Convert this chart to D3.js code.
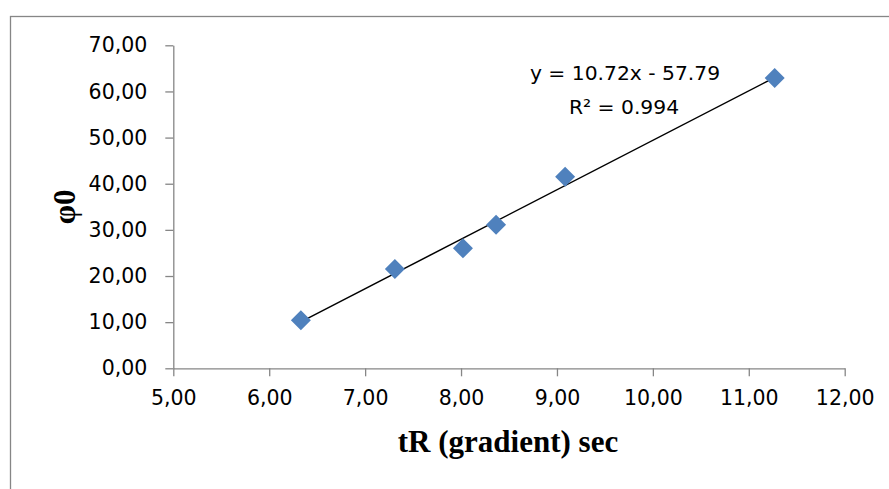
<!DOCTYPE html>
<html><head><meta charset="utf-8">
<script src="https://cdn.jsdelivr.net/npm/d3@7"></script>
<style>body{margin:0;background:#fff;}svg{display:block;}</style>
</head><body>
<script>
const tR = [6.33, 7.31, 8.02, 8.365, 9.085, 11.27];
const phi0 = [10.4, 21.5, 26.0, 31.1, 41.5, 62.9];
const xTicks = [5, 6, 7, 8, 9, 10, 11, 12];
const yTicks = [0, 10, 20, 30, 40, 50, 60, 70];
const slope = 10.72, intercept = -57.79;
const eqText = "y = 10.72x - 57.79";
const r2Text = "R² = 0.994";
const xTitle = "tR (gradient) sec";
const yTitle = "φ0";

const W = 889, H = 489;
const svg = d3.select("body").append("svg").attr("width", W).attr("height", H);
svg.append("rect").attr("x", 10.5).attr("y", 16.5).attr("width", 900).attr("height", 500)
  .attr("fill", "#fff").attr("stroke", "#868686").attr("stroke-width", 1.3);

const x = d3.scaleLinear().domain([5, 12]).range([173.3, 844.7]);
const y = d3.scaleLinear().domain([0, 70]).range([368.3, 45.3]);
const fmt = d => d.toFixed(2).replace(".", ",");
const font = "DejaVu Sans";

const xa = svg.append("g").attr("transform", `translate(0,${y(0)})`)
  .call(d3.axisBottom(x).tickValues(xTicks).tickFormat(fmt).tickSize(8).tickSizeOuter(0).tickPadding(14));
const ya = svg.append("g").attr("transform", `translate(${x(5)},0)`)
  .call(d3.axisLeft(y).tickValues(yTicks).tickFormat(fmt).tickSize(8).tickSizeOuter(0).tickPadding(18));
[xa, ya].forEach(a => {
  a.selectAll("path,line").attr("stroke", "#868686").attr("stroke-width", 1.3);
  a.selectAll("text").attr("font-family", font).attr("font-size", 20.5).attr("fill", "#000");
});

// trend line
const x0 = d3.min(tR), x1 = d3.max(tR);
svg.append("line").attr("x1", x(x0)).attr("y1", y(slope * x0 + intercept))
  .attr("x2", x(x1)).attr("y2", y(slope * x1 + intercept))
  .attr("stroke", "#000").attr("stroke-width", 1.5);

// points
const sym = d3.symbol().type(d3.symbolSquare).size(200);
svg.append("g").selectAll("path").data(tR).join("path")
  .attr("d", sym)
  .attr("transform", (d, i) => `translate(${x(d)},${y(phi0[i])}) rotate(45)`)
  .attr("fill", "#4F81BD");

// equation
svg.append("text").attr("x", 625).attr("y", 80).attr("text-anchor", "middle")
  .attr("font-family", font).attr("font-size", 20.3).text(eqText);
svg.append("text").attr("x", 624).attr("y", 114).attr("text-anchor", "middle")
  .attr("font-family", font).attr("font-size", 20.3).text(r2Text);

// titles
svg.append("text").attr("x", 508).attr("y", 452).attr("text-anchor", "middle")
  .attr("font-family", "Liberation Serif").attr("font-weight", "bold").attr("font-size", 31)
  .text(xTitle);
svg.append("text").attr("transform", `translate(75,${(y(0) + y(70)) / 2}) rotate(-90)`)
  .attr("text-anchor", "middle")
  .attr("font-family", "Liberation Serif").attr("font-weight", "bold").attr("font-size", 31)
  .text(yTitle);
</script>
</body></html>
